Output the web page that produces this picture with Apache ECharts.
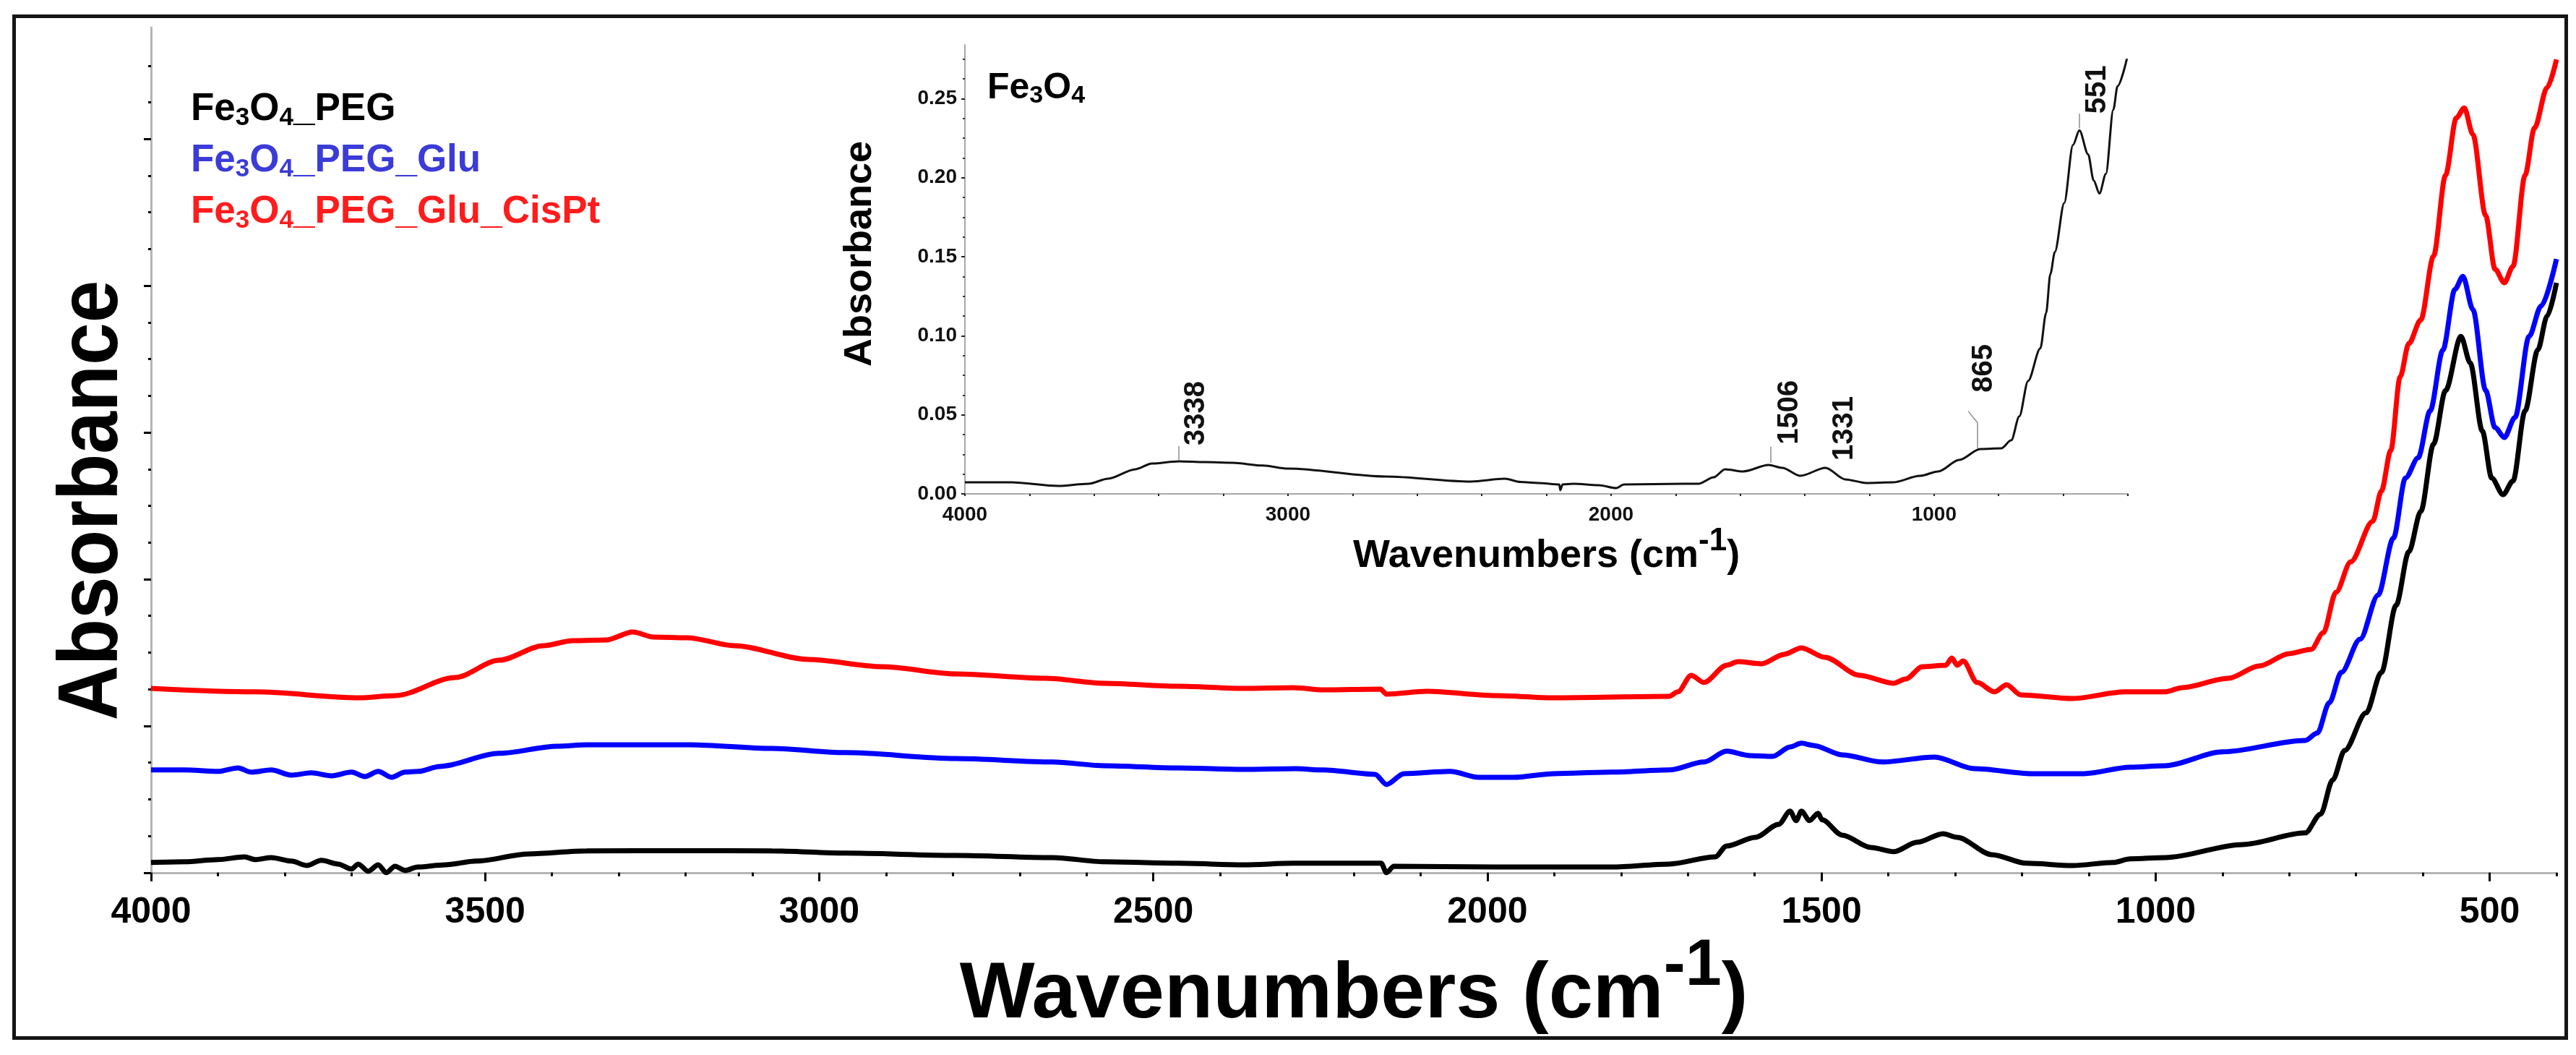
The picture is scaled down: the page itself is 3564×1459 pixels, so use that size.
<!DOCTYPE html>
<html>
<head>
<meta charset="utf-8">
<script src="https://cdn.jsdelivr.net/npm/echarts@6/dist/echarts.min.js"></script>
<style>
html, body { margin: 0; padding: 0; background: #fff; }
#chart { width: 3564px; height: 1459px; }
</style>
</head>
<body>
<div id="chart"></div>
<script>
'use strict'

// main spectra, wavenumbers (cm-1) and absorbance in offset arbitrary units
var pegWn = [4000, 3950, 3900, 3860, 3844, 3820, 3790, 3767, 3745, 3720, 3700, 3690, 3675, 3660, 3648, 3635, 3620, 3601, 3560, 3513,
	3435, 3348, 3200, 3071, 2961, 2795, 2651, 2573, 2463, 2365, 2290, 2159, 2151, 2140, 1987, 1814, 1728, 1659, 1642, 1599,
	1564, 1547, 1538, 1530, 1518, 1505, 1499, 1469, 1426, 1392, 1357, 1318, 1297, 1245, 1193, 1124, 1064, 1038, 985, 870,
	776, 753, 735, 717, 685, 662, 640, 621, 603, 584, 566, 543, 529, 511, 497, 480, 465, 447, 428, 414, 400];
var pegAbs = [0.069, 0.074, 0.089, 0.108, 0.089, 0.103, 0.079, 0.049, 0.084, 0.059, 0.025, 0.059, 0.010, 0.054, 0.000, 0.044, 0.015, 0.039, 0.054, 0.079,
	0.128, 0.148, 0.150, 0.148, 0.133, 0.118, 0.103, 0.074, 0.064, 0.054, 0.064, 0.064, 0.000, 0.044, 0.039, 0.039, 0.059, 0.108, 0.182, 0.241,
	0.330, 0.419, 0.355, 0.419, 0.355, 0.404, 0.360, 0.256, 0.172, 0.143, 0.207, 0.266, 0.241, 0.123, 0.064, 0.049, 0.069, 0.094, 0.103, 0.192,
	0.271, 0.399, 0.631, 0.833, 1.089, 1.365, 1.823, 2.187, 2.463, 2.921, 3.286, 3.655, 3.473, 3.010, 2.690, 2.576, 2.670, 3.148, 3.562, 3.793, 4.020];

var gluWn = [4000, 3950, 3900, 3870, 3850, 3820, 3790, 3760, 3730, 3700, 3680, 3660, 3640, 3620, 3600, 3568, 3479, 3392, 3348, 3193,
	3071, 2961, 2795, 2651, 2573, 2463, 2365, 2287, 2246, 2168, 2151, 2125, 2056, 2013, 1961, 1901, 1814, 1728, 1676, 1642,
	1607, 1573, 1547, 1530, 1512, 1469, 1409, 1331, 1271, 1185, 1107, 1038, 986, 900, 776, 758, 740, 722, 694, 667,
	644, 626, 607, 589, 570, 552, 540, 525, 506, 492, 478, 462, 441, 423, 400];
var gluAbs = [0.700, 0.700, 0.690, 0.714, 0.685, 0.700, 0.665, 0.680, 0.660, 0.685, 0.655, 0.690, 0.650, 0.685, 0.690, 0.724, 0.813, 0.862, 0.872, 0.872,
	0.847, 0.818, 0.778, 0.754, 0.729, 0.714, 0.704, 0.709, 0.700, 0.670, 0.601, 0.675, 0.690, 0.650, 0.650, 0.675, 0.685, 0.700, 0.754, 0.828,
	0.798, 0.793, 0.857, 0.882, 0.867, 0.803, 0.754, 0.788, 0.709, 0.675, 0.675, 0.719, 0.729, 0.823, 0.901, 0.951, 1.158, 1.365, 1.591, 1.892,
	2.281, 2.690, 2.828, 3.148, 3.562, 3.975, 4.064, 3.837, 3.286, 3.034, 2.966, 3.103, 3.655, 3.862, 4.182];

var cisWn = [4000, 3844, 3689, 3634, 3545, 3479, 3413, 3369, 3319, 3279, 3248, 3198, 3127, 3016, 2906, 2795, 2662, 2573, 2463, 2365,
	2290, 2246, 2160, 2151, 2090, 1987, 1901, 1728, 1715, 1695, 1676, 1642, 1625, 1590, 1556, 1530, 1495, 1443, 1392, 1374,
	1349, 1314, 1305, 1297, 1288, 1267, 1241, 1223, 1202, 1124, 1046, 986, 960, 891, 845, 800, 767, 749, 730, 708,
	675, 662, 648, 634, 621, 603, 584, 566, 550, 538, 525, 506, 492, 478, 465, 447, 433, 414, 400];
var cisAbs = [1.256, 1.232, 1.192, 1.207, 1.330, 1.448, 1.547, 1.581, 1.586, 1.640, 1.606, 1.601, 1.547, 1.453, 1.404, 1.355, 1.325, 1.291, 1.271, 1.256,
	1.261, 1.246, 1.251, 1.217, 1.236, 1.207, 1.192, 1.202, 1.232, 1.345, 1.296, 1.414, 1.438, 1.424, 1.488, 1.532, 1.468, 1.345, 1.291, 1.320,
	1.404, 1.414, 1.463, 1.414, 1.443, 1.296, 1.232, 1.281, 1.212, 1.187, 1.232, 1.232, 1.261, 1.325, 1.409, 1.493, 1.522, 1.635, 1.911, 2.118,
	2.394, 2.601, 2.877, 3.379, 3.606, 3.768, 4.202, 4.754, 5.143, 5.212, 5.030, 4.478, 4.113, 4.020, 4.133, 4.754, 5.074, 5.350, 5.542];

// inset: bare Fe3O4
var feWn = [4000, 3857, 3711, 3617, 3557, 3472, 3421, 3338, 3257, 3172, 3078, 3000, 2698, 2434, 2329, 2280, 2224, 2160, 2157, 2150,
	2116, 2038, 1984, 1960, 1774, 1729, 1682, 1647, 1591, 1512, 1470, 1414, 1336, 1275, 1210, 1128, 1043, 987, 922, 857,
	792, 761, 736, 709, 671, 653, 640, 626, 597, 570, 550, 523, 506, 488, 468, 445, 432, 403];
var feAbs = [0.0073, 0.0073, 0.0050, 0.0064, 0.0096, 0.0156, 0.0192, 0.0206, 0.0201, 0.0197, 0.0179, 0.0160, 0.0110, 0.0078, 0.0096, 0.0075, 0.0069, 0.0060, 0.0023, 0.0060,
	0.0064, 0.0055, 0.0037, 0.0060, 0.0064, 0.0064, 0.0105, 0.0156, 0.0142, 0.0183, 0.0165, 0.0114, 0.0165, 0.0092, 0.0069, 0.0073, 0.0114, 0.0142, 0.0215, 0.0284,
	0.0288, 0.0339, 0.0490, 0.0714, 0.0920, 0.1145, 0.1390, 0.1530, 0.1840, 0.2207, 0.2299, 0.2147, 0.1983, 0.1900, 0.2024, 0.2431, 0.2578, 0.2752];

// peak marks in the inset
var peakWn = [3338, 1506, 1331, 865, 551];
var peakFoot = [0.0211, 0.0197, 0.0165, 0.0288, 0.2312];
var peakTop = [0.0302, 0.0298, 0.0165, 0.0449, 0.2404];

// axis ticks
var mainXLabels = [500, 1000, 1500, 2000, 2500, 3000, 3500, 4000];
var mainYMajor = [0, 1, 2, 3, 4, 5];
var insetXLabels = [1000, 2000, 3000, 4000];
var insetYLabels = [0, 0.05, 0.10, 0.15, 0.20, 0.25];

var mainYMinor = [];
for (var i = 0; i < 23; i++) { if (i % 4 !== 0) mainYMinor.push(i * 0.25); }
var insetYMinor = [];
for (var j = 1; j < 23; j++) { if (j % 4 !== 0) insetYMinor.push(j * 0.0125); }

function pairs(xs, ys) {
	return xs.map(function(x, k) { return [x, ys[k]]; });
}
function chem(name) {
	return name.split(/(\d)/).filter(Boolean).map(function(p) {
		return /^\d$/.test(p) ? '{s|' + p + '}' : '{b|' + p + '}';
	}).join('');
}
function plain(v) { return String(v); }

var FONT = 'Liberation Sans, Arial, sans-serif';
var gray = '#b4b4b4';

var chart = echarts.init(document.getElementById('chart'));

var leaders = [];
peakWn.forEach(function(w, k) {
	if (peakTop[k] > peakFoot[k]) leaders.push([{ coord: [w, peakFoot[k]] }, { coord: [w, peakTop[k]] }]);
});
leaders.push([{ coord: [865, 0.0449] }, { coord: [894, 0.0522] }]);

// screen shifts of the rotated peak labels; label offset is in the rotated frame
var peakShift = [[24, -1], [26, -3], [24, -10], [9, -42], [25, 0]];
var peakLabels = peakWn.map(function(w, k) {
	var d = peakShift[k];
	return {
		name: String(w),
		coord: [w, peakTop[k]],
		label: { offset: [-d[1], d[0]] }
	};
});

var option = {
	animation: false,
	backgroundColor: '#fff',
	textStyle: { fontFamily: FONT },
	grid: [
		{ left: 209, top: 38, right: 27, bottom: 242 },
		{ left: 1335, top: 62, right: 620, bottom: 776 }
	],
	legend: {
		show: true,
		orient: 'vertical',
		left: 259,
		top: 121,
		padding: 0,
		itemGap: 11,
		itemWidth: 0,
		itemHeight: 60,
		selectedMode: false,
		icon: 'rect',
		itemStyle: { opacity: 0 },
		lineStyle: { opacity: 0 },
		formatter: chem,
		textStyle: {
			fontFamily: FONT,
			fontWeight: 'bold',
			rich: {
				b: { fontSize: 53, lineHeight: 60, fontWeight: 'bold', fontFamily: FONT, verticalAlign: 'middle' },
				s: { fontSize: 35, lineHeight: 35, fontWeight: 'bold', fontFamily: FONT, verticalAlign: 'bottom' }
			}
		},
		data: [
			{ name: 'Fe3O4_PEG', textStyle: { color: '#000000' } },
			{ name: 'Fe3O4_PEG_Glu', textStyle: { color: '#3b3bd8' } },
			{ name: 'Fe3O4_PEG_Glu_CisPt', textStyle: { color: '#ff1c1c' } }
		]
	},
	xAxis: [
		{
			type: 'value', gridIndex: 0, position: 'bottom',
			min: 400, max: 4000, interval: 100, inverse: true,
			axisLine: { lineStyle: { color: gray, width: 3 } },
			axisTick: { length: 5, lineStyle: { color: '#000', width: 3 } },
			axisLabel: {
				customValues: mainXLabels, margin: 20, formatter: plain,
				fontSize: 50, fontWeight: 'bold', color: '#000', fontFamily: FONT
			},
			splitLine: { show: false },
			name: '{t|Wavenumbers (cm}{s|-1}{t|)}',
			nameLocation: 'middle',
			nameGap: 69,
			nameTextStyle: {
				rich: {
					t: { fontSize: 110, lineHeight: 170, fontWeight: 'bold', color: '#000', fontFamily: FONT },
					s: { fontSize: 90, lineHeight: 90, fontWeight: 'bold', color: '#000', fontFamily: FONT, verticalAlign: 'top' }
				}
			}
		},
		{
			type: 'value', gridIndex: 0, position: 'bottom',
			min: 400, max: 4000, inverse: true,
			axisLine: { show: false },
			axisTick: { customValues: mainXLabels, length: 12, lineStyle: { color: '#000', width: 3 } },
			axisLabel: { show: false },
			splitLine: { show: false }
		},
		{
			type: 'value', gridIndex: 1, position: 'bottom',
			min: 400, max: 4000, interval: 200, inverse: true,
			axisLine: { lineStyle: { color: '#a8a8a8', width: 2 } },
			axisTick: { length: 3, lineStyle: { color: '#222', width: 2 } },
			axisLabel: {
				customValues: insetXLabels, margin: 15, formatter: plain,
				fontSize: 28, fontWeight: 'bold', color: '#111', fontFamily: FONT
			},
			splitLine: { show: false },
			name: '{t|Wavenumbers (cm}{s|-1}{t|)}',
			nameLocation: 'middle',
			nameGap: 43,
			nameTextStyle: {
				rich: {
					t: { fontSize: 54, lineHeight: 84, fontWeight: 'bold', color: '#000', fontFamily: FONT },
					s: { fontSize: 44, lineHeight: 44, fontWeight: 'bold', color: '#000', fontFamily: FONT, verticalAlign: 'top' }
				}
			}
		}
	],
	yAxis: [
		{
			type: 'value', gridIndex: 0, position: 'left',
			min: -0.05, max: 5.76,
			axisLine: { lineStyle: { color: gray, width: 3 } },
			axisTick: { customValues: mainYMinor, length: 4, lineStyle: { color: '#000', width: 3 } },
			axisLabel: { show: false },
			splitLine: { show: false }
		},
		{
			type: 'value', gridIndex: 0, position: 'left',
			min: -0.05, max: 5.76,
			axisLine: { show: false },
			axisTick: { customValues: mainYMajor, length: 10, lineStyle: { color: '#000', width: 3 } },
			axisLabel: { show: false },
			splitLine: { show: false }
		},
		{
			type: 'value', gridIndex: 1, position: 'left',
			min: 0, max: 0.284,
			axisLine: { lineStyle: { color: '#a8a8a8', width: 2 } },
			axisTick: { customValues: insetYLabels, length: 5, lineStyle: { color: '#222', width: 2 } },
			axisLabel: {
				customValues: insetYLabels, margin: 11,
				fontSize: 28, fontWeight: 'bold', color: '#111', fontFamily: FONT,
				formatter: function(v) { return v.toFixed(2); }
			},
			splitLine: { show: false }
		},
		{
			type: 'value', gridIndex: 1, position: 'left',
			min: 0, max: 0.284,
			axisLine: { show: false },
			axisTick: { customValues: insetYMinor, length: 3, lineStyle: { color: '#333', width: 2 } },
			axisLabel: { show: false },
			splitLine: { show: false }
		}
	],
	series: [
		{
			name: 'Fe3O4_PEG', type: 'line', xAxisIndex: 0, yAxisIndex: 0,
			data: pairs(pegWn, pegAbs), showSymbol: false, smooth: 0.3, smoothMonotone: 'x',
			lineStyle: { color: '#000000', width: 7 }, itemStyle: { color: '#000000' }
		},
		{
			name: 'Fe3O4_PEG_Glu', type: 'line', xAxisIndex: 0, yAxisIndex: 0,
			data: pairs(gluWn, gluAbs), showSymbol: false, smooth: 0.3, smoothMonotone: 'x',
			lineStyle: { color: '#0000ff', width: 7 }, itemStyle: { color: '#0000ff' }
		},
		{
			name: 'Fe3O4_PEG_Glu_CisPt', type: 'line', xAxisIndex: 0, yAxisIndex: 0,
			data: pairs(cisWn, cisAbs), showSymbol: false, smooth: 0.3, smoothMonotone: 'x',
			lineStyle: { color: '#ff0000', width: 7 }, itemStyle: { color: '#ff0000' }
		},
		{
			name: 'Fe3O4', type: 'line', xAxisIndex: 2, yAxisIndex: 2,
			data: pairs(feWn, feAbs), showSymbol: false, smooth: 0.3, smoothMonotone: 'x',
			lineStyle: { color: '#111', width: 3 }, itemStyle: { color: '#111' },
			markLine: {
				silent: true, symbol: ['none', 'none'], animation: false,
				lineStyle: { color: '#8c8c8c', width: 1.5, type: 'solid' },
				label: { show: false },
				data: leaders
			},
			markPoint: {
				silent: true, symbol: 'circle', symbolSize: 0, animation: false,
				label: {
					show: true, position: [0, 0], rotate: 90,
					align: 'left', verticalAlign: 'middle',
					fontSize: 40, fontWeight: 'bold', color: '#111', fontFamily: FONT,
					formatter: function(p) { return p.name; }
				},
				data: peakLabels
			}
		}
	],
	graphic: [
		{
			type: 'rect', left: 17, top: 20, z: 100, silent: true,
			shape: { width: 3531, height: 1413 },
			style: { fill: 'none', stroke: '#151515', lineWidth: 5 }
		},
		{
			type: 'text', x: 130, y: 692, rotation: Math.PI / 2, scaleX: 0.9, silent: true,
			style: {
				text: 'Absorbance', fill: '#000', align: 'center', verticalAlign: 'middle',
				font: 'bold 117px ' + FONT
			}
		},
		{
			type: 'text', x: 1190, y: 351, rotation: Math.PI / 2, silent: true,
			style: {
				text: 'Absorbance', fill: '#000', align: 'center', verticalAlign: 'middle',
				font: 'bold 54px ' + FONT
			}
		},
		{
			type: 'text', x: 1366, y: 94, silent: true,
			style: {
				text: chem('Fe3O4'), fill: '#000', align: 'left', verticalAlign: 'top',
				rich: {
					b: { fontSize: 50, lineHeight: 56, fontWeight: 'bold', fontFamily: FONT, verticalAlign: 'middle' },
					s: { fontSize: 34, lineHeight: 34, fontWeight: 'bold', fontFamily: FONT, verticalAlign: 'bottom' }
				}
			}
		}
	]
};

chart.setOption(option);
</script>
</body>
</html>
